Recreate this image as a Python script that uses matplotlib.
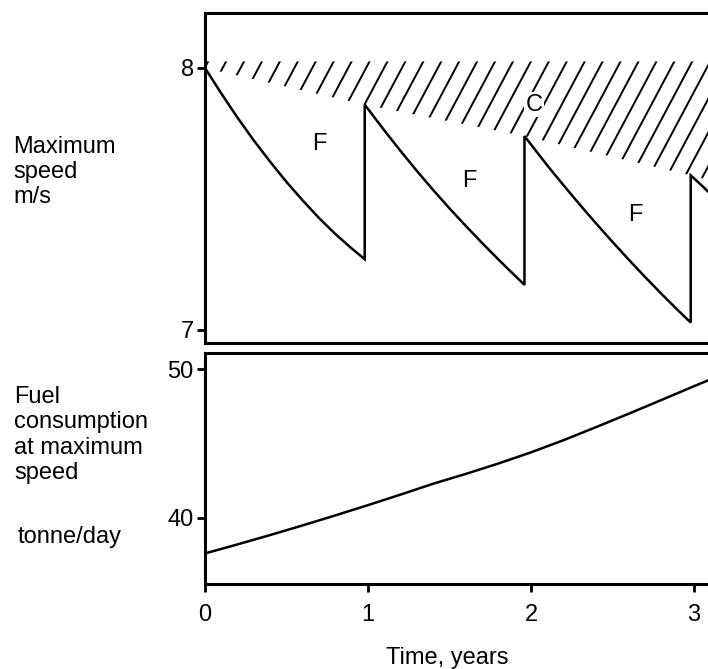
import numpy as np
import matplotlib
matplotlib.use("Agg")
import matplotlib.pyplot as plt

plt.rcParams['font.family'] = ['Liberation Sans', 'DejaVu Sans']

# Maksimalus greitis - pjuklo formos kreive (kiekvienas segmentas atskirai)
seg1_t = [0.0, 0.1, 0.2, 0.3, 0.4, 0.5, 0.6, 0.7, 0.8, 0.9, 0.98]
seg1_v = [8.0, 7.903, 7.810, 7.723, 7.642, 7.565, 7.494, 7.427, 7.366, 7.311, 7.27]
seg2_t = [0.98, 1.1, 1.2, 1.3, 1.4, 1.5, 1.6, 1.7, 1.8, 1.9, 1.96]
seg2_v = [7.86, 7.762, 7.683, 7.607, 7.534, 7.464, 7.397, 7.332, 7.269, 7.208, 7.172]
seg3_t = [1.96, 2.1, 2.2, 2.3, 2.4, 2.5, 2.6, 2.7, 2.8, 2.9, 2.98]
seg3_v = [7.74, 7.628, 7.552, 7.478, 7.406, 7.336, 7.268, 7.202, 7.138, 7.076, 7.028]
seg4_t = [2.98, 3.05, 3.1]
seg4_v = [7.59, 7.55, 7.52]

# Uzbruksniuota sritis C
hatch_t = [0.0, 0.98, 1.96, 2.98, 3.1]
hatch_low = [8.0, 7.86, 7.74, 7.59, 7.57]
hatch_top = 8.025

# Kuro sanaudos
fuel_t = [0.0, 0.2, 0.4, 0.6, 0.8, 1.0, 1.2, 1.4, 1.6, 1.8, 2.0, 2.2, 2.4, 2.6, 2.8, 3.0, 3.1]
fuel_v = [37.6, 38.21, 38.84, 39.49, 40.16, 40.85, 41.56, 42.29, 42.95, 43.65, 44.4,
          45.22, 46.1, 47.0, 47.92, 48.85, 49.3]

speed_ticks = [7, 8]
fuel_ticks = [40, 50]
time_ticks = [0, 1, 2, 3]

fs = 17
lw_axis = 2.2
lw_line = 1.8

fig = plt.figure(figsize=(7.08, 6.69), dpi=100)
ax1 = fig.add_axes([0.2895, 0.4873, 0.7105, 0.4933])
ax2 = fig.add_axes([0.2895, 0.1278, 0.7105, 0.3445])

for ax in (ax1, ax2):
    ax.set_xlim(0, 3.086)
    ax.spines['right'].set_visible(False)
    for s in ('left', 'top', 'bottom'):
        ax.spines[s].set_linewidth(lw_axis)
    ax.tick_params(axis='y', direction='out', length=6, width=2, pad=2, labelsize=fs)

# ---- virsutinis grafikas ----
ax1.set_ylim(6.95, 8.21)
ax1.set_yticks(speed_ticks)
ax1.set_xticks([])

t_all = seg1_t + seg2_t + seg3_t + seg4_t
v_all = seg1_v + seg2_v + seg3_v + seg4_v
ax1.plot(t_all, v_all, color='black', linewidth=lw_line, solid_joinstyle='miter')

# uzbruksniavimas pasvirusiomis linijomis, iskirptas pagal sriti
poly = ax1.fill_between(hatch_t, hatch_low, hatch_top, facecolor='none', edgecolor='none')
clip = poly.get_paths()[0]
slope = np.tan(np.radians(62)) * 163 / 262
for c in np.arange(-0.6, 3.3, 0.11):
    yy = np.array([7.3, 8.3])
    xx = c + (yy - 7.3) / slope
    ln, = ax1.plot(xx, yy, color='black', linewidth=1.4, solid_capstyle='butt')
    ln.set_clip_path(clip, transform=ax1.transData)

ax1.text(0.70, 7.71, 'F', fontsize=fs, ha='center', va='center')
ax1.text(1.62, 7.57, 'F', fontsize=fs, ha='center', va='center')
ax1.text(2.64, 7.44, 'F', fontsize=fs, ha='center', va='center')
ax1.text(2.02, 7.86, 'C', fontsize=fs, ha='center', va='center',
         bbox=dict(facecolor='white', edgecolor='none', pad=1.0))

# ---- apatinis grafikas ----
ax2.set_ylim(35.58, 51.08)
ax2.set_yticks(fuel_ticks)
ax2.set_xticks(time_ticks)
ax2.tick_params(axis='x', direction='out', length=6, width=2, pad=9, labelsize=fs)
ax2.plot(fuel_t, fuel_v, color='black', linewidth=lw_line)

# Asiu pavadinimai
fig.text(13 / 708, 1 - 172 / 669, 'Maximum\nspeed\nm/s', fontsize=fs,
         ha='left', va='center', linespacing=1.2)
fig.text(14 / 708, 1 - 435 / 669, 'Fuel\nconsumption\nat maximum\nspeed', fontsize=fs,
         ha='left', va='center', linespacing=1.2)
fig.text(18 / 708, 1 - 537 / 669, 'tonne/day', fontsize=fs, ha='left', va='center')
fig.text(447 / 708, 1 - 658 / 669, 'Time, years', fontsize=fs, ha='center', va='center')

fig.savefig('out.png', dpi=100)
